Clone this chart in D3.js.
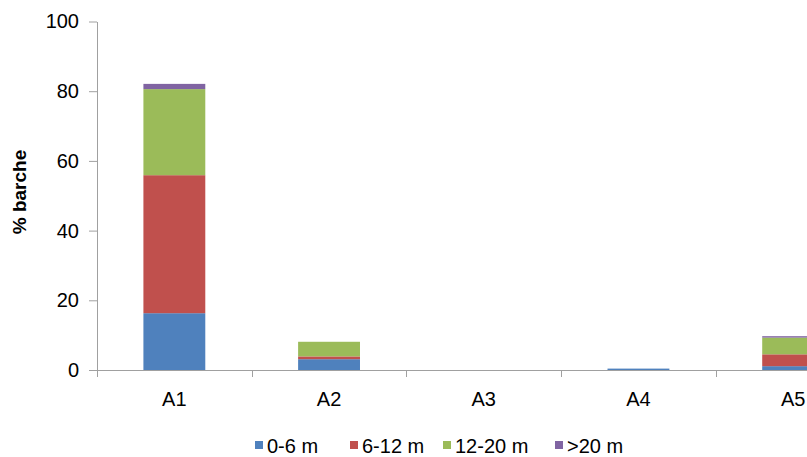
<!DOCTYPE html>
<html>
<head>
<meta charset="utf-8">
<script src="https://cdn.jsdelivr.net/npm/d3@7"></script>
<style>
  html, body { margin: 0; padding: 0; background: #ffffff; overflow: hidden; }
  svg { display: block; font-family: "Liberation Sans", Arial, sans-serif; }
</style>
</head>
<body>
<svg id="chart" width="807" height="457"></svg>
<script>
// Zone categories
const categories = ["A1", "A2", "A3", "A4", "A5"];

// Boat length classes (% of boats per zone)
const seriesNames = ["0-6 m", "6-12 m", "12-20 m", ">20 m"];
const len0to6   = [16.3, 3.1, 0, 0.4, 1.1];
const len6to12  = [39.6, 0.8, 0, 0, 3.4];
const len12to20 = [24.7, 4.2, 0, 0, 4.8];
const lenOver20 = [1.5, 0, 0, 0, 0.4];

const yTicks = [0, 20, 40, 60, 80, 100];
const colors = ["#4F81BD", "#C0504D", "#9BBB59", "#8064A2"];

const seriesValues = [len0to6, len6to12, len12to20, lenOver20];
const rows = categories.map((c, i) => {
  const r = { cat: c };
  seriesNames.forEach((s, j) => { r[s] = seriesValues[j][i]; });
  return r;
});

const svg = d3.select("#chart");
const axisColor = "#a0a0a0";
const fontSize = 20;

// Plot area (the last category runs past the right edge of the window)
const plotLeft = 97, plotRight = 870.5, plotTop = 21.5, plotBottom = 370;

const x = d3.scaleBand().domain(categories).range([plotLeft, plotRight]).paddingInner(0).paddingOuter(0);
const y = d3.scaleLinear().domain([0, 100]).range([plotBottom, plotTop]);

const barW = x.bandwidth() * 0.4;

const stacked = d3.stack().keys(seriesNames)(rows);

svg.append("g").selectAll("g")
  .data(stacked)
  .join("g")
  .attr("fill", (d, i) => colors[i])
  .selectAll("rect")
  .data(d => d)
  .join("rect")
  .attr("x", d => x(d.data.cat) + (x.bandwidth() - barW) / 2)
  .attr("width", barW)
  .attr("y", d => y(d[1]))
  .attr("height", d => Math.max(0, y(d[0]) - y(d[1])));

// Y axis
const yAxis = d3.axisLeft(y).tickValues(yTicks).tickSize(8).tickSizeOuter(0).tickPadding(10);
const gy = svg.append("g").attr("transform", `translate(${plotLeft},0)`).call(yAxis);
gy.select(".domain").attr("stroke", axisColor);
gy.selectAll(".tick line").attr("stroke", axisColor);
gy.selectAll(".tick text")
  .attr("font-size", fontSize)
  .attr("fill", "#000")
  .attr("font-family", "Liberation Sans, Arial, sans-serif");

// X axis: baseline, boundary ticks, category labels
const gx = svg.append("g");
gx.append("line")
  .attr("x1", plotLeft).attr("x2", plotRight)
  .attr("y1", plotBottom + 0.5).attr("y2", plotBottom + 0.5)
  .attr("stroke", axisColor);
const bounds = categories.map(c => x(c)).concat([x.range()[1]]);
gx.selectAll(".xt")
  .data(bounds)
  .join("line")
  .attr("x1", d => Math.round(d) + 0.5).attr("x2", d => Math.round(d) + 0.5)
  .attr("y1", plotBottom).attr("y2", plotBottom + 7)
  .attr("stroke", axisColor);
gx.selectAll(".xl")
  .data(categories)
  .join("text")
  .attr("x", d => x(d) + x.bandwidth() / 2)
  .attr("y", 406)
  .attr("text-anchor", "middle")
  .attr("font-size", fontSize)
  .attr("fill", "#000")
  .text(d => d);

// Y axis title
svg.append("text")
  .attr("transform", "translate(26,192) rotate(-90)")
  .attr("text-anchor", "middle")
  .attr("font-size", 19)
  .attr("font-weight", "bold")
  .attr("fill", "#000")
  .text("% barche");

// Legend
const legendX = [255, 350, 443, 555];
const lg = svg.append("g").selectAll("g")
  .data(seriesNames)
  .join("g")
  .attr("transform", (d, i) => `translate(${legendX[i]},0)`);
lg.append("rect")
  .attr("x", 0).attr("y", 441)
  .attr("width", 8).attr("height", 8)
  .attr("fill", (d, i) => colors[i]);
lg.append("text")
  .attr("x", 12).attr("y", 453)
  .attr("font-size", fontSize)
  .attr("fill", "#000")
  .text(d => d);
</script>
</body>
</html>
